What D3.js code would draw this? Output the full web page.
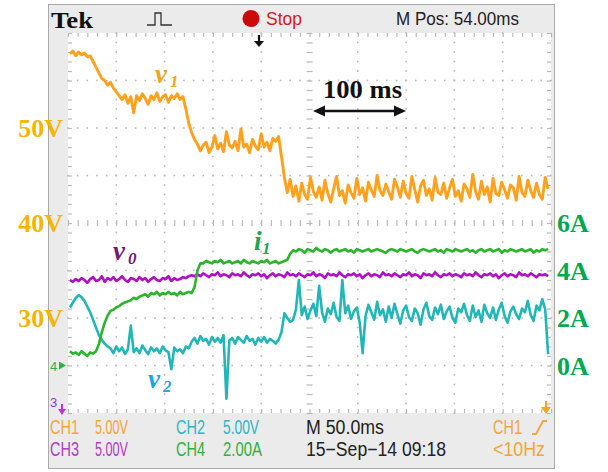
<!DOCTYPE html>
<html><head><meta charset="utf-8">
<script src="https://cdn.jsdelivr.net/npm/d3@7"></script>
<style>
html,body{margin:0;padding:0;background:#fff;}
svg{display:block;}
.nar{font-family:"Liberation Sans Narrow","Arial Narrow","Liberation Sans",Arial,sans-serif;}
.ser{font-family:"Liberation Serif","Times New Roman",serif;font-weight:bold;}
</style></head><body>
<svg id="c" width="608" height="472"></svg>
<script>
// ---- sampling grid (ms) ----
const sampleStartMs = 2;
const sampleStepMs = 3;

// ---- CH1: v1 (V) ----
const v1Values = [
57.8,58.1,57.6,58.0,57.7,57.9,57.5,57.6,
57.0,56.4,55.8,55.2,55.0,54.5,54.8,54.2,53.8,53.4,
53.0,53.5,52.6,53.3,51.6,53.4,52.9,53.6,53.1,52.5,53.4,53.0,53.7,52.8,53.3,53.5,52.7,53.4,53.1,53.6,53.0,53.3,
52.0,50.5,49.5,48.8,48.3,47.6,48.2,
48.5,47.4,48.0,49.2,47.8,48.4,47.5,49.6,48.2,47.9,48.6,47.6,49.9,48.0,48.3,47.4,48.8,48.1,47.7,49.4,48.0,48.5,47.6,48.9,48.6,49.1,
47.0,44.8,43.2,
44.6,42.8,43.9,42.3,44.2,43.0,42.5,44.8,43.3,42.7,
43.8,42.4,44.5,43.1,42.2,43.6,44.9,42.9,43.4,42.1,
44.0,43.2,42.6,44.7,43.0,43.7,42.3,44.3,43.5,42.8,
45.0,43.4,42.9,44.1,43.3,42.5,44.6,43.8,42.7,44.4,
43.1,42.6,44.9,43.5,42.2,43.9,44.5,42.9,43.6,42.4,
44.8,43.2,43.0,44.2,42.6,43.7,44.6,42.8,43.4,42.3,
44.1,43.6,42.7,45.1,43.3,42.5,44.4,43.0,43.8,42.2,
44.7,43.1,42.9,44.3,43.5,42.6,44.0,43.7,42.4,44.9,
43.2,42.8,44.5,43.4,42.7,44.2,43.0,42.5,44.8,43.6
];

// ---- CH3: v0 (V) ----
const v0Values = [
34.0,33.8,34.1,33.9,34.2,34.0,33.7,34.1,34.3,33.9,
34.0,34.4,33.8,34.2,34.0,34.3,33.9,34.1,34.4,34.0,
33.8,34.2,34.1,33.9,34.3,34.0,34.2,33.8,34.1,34.3,
34.0,33.9,34.2,34.1,34.4,33.9,34.2,34.0,34.1,34.3,
34.2,34.4,34.5,34.4,
34.6,34.4,34.7,34.5,34.3,34.6,34.5,34.8,34.4,34.6,
34.5,34.3,34.7,34.5,34.6,34.4,34.8,34.5,34.3,34.6,
34.5,34.7,34.4,34.6,34.2,34.5,34.7,34.4,34.6,34.5,
34.3,34.8,34.5,34.6,34.4,34.7,34.5,34.3,34.6,34.5,
34.8,34.4,34.6,34.5,34.2,34.7,34.5,34.6,34.4,34.8,
34.5,34.3,34.6,34.5,34.7,34.4,34.6,34.2,34.5,34.7,
34.4,34.6,34.5,34.3,34.8,34.5,34.6,34.4,34.7,34.5,
34.3,34.6,34.5,34.8,34.4,34.6,34.5,34.2,34.7,34.5,
34.6,34.4,34.8,34.5,34.3,34.6,34.5,34.7,34.4,34.6,
34.5,34.3,34.7,34.5,34.6,34.4,34.8,34.5,34.3,34.6,
34.5,34.7,34.4,34.6,34.2,34.5,34.7,34.4,34.6,34.5,
34.3,34.8,34.5,34.6,34.4,34.7,34.5,34.3,34.6,34.5,
34.6,34.4
];

// ---- CH4: i1 (A) ----
const i1Values = [
0.6,0.5,0.55,0.45,0.6,0.5,0.4,0.55,0.5,0.6,
0.9,1.4,1.8,2.1,2.3,2.35,
2.45,2.5,2.6,2.65,2.7,2.75,2.85,2.8,2.9,
2.95,3.0,2.9,3.05,3.0,3.1,2.95,3.05,3.0,3.1,3.0,3.05,2.95,3.1,3.0,3.05,3.1,3.05,
3.3,4.0,4.3,
4.3,4.4,4.35,4.3,4.4,4.35,4.45,4.3,4.35,4.4,
4.3,4.35,4.4,4.3,4.45,4.35,4.3,4.4,4.35,4.3,
4.4,4.35,4.45,4.3,4.35,4.4,4.3,4.35,4.4,4.45,
4.7,4.85,4.8,4.9,4.85,4.75,4.9,4.85,4.8,4.95,
4.85,4.8,4.9,4.85,4.75,4.85,4.9,4.8,4.85,4.9,
4.8,4.85,4.75,4.9,4.85,4.8,4.85,4.9,4.8,4.85,
4.9,4.85,4.8,4.75,4.85,4.9,4.85,4.8,4.9,4.85,
4.8,4.85,4.9,4.8,4.75,4.85,4.9,4.85,4.8,4.85,
4.9,4.8,4.85,4.75,4.9,4.85,4.8,4.9,4.85,4.8,
4.85,4.9,4.8,4.85,4.75,4.85,4.9,4.8,4.85,4.9,
4.8,4.85,4.9,4.75,4.85,4.8,4.9,4.85,4.8,4.85,
4.9,4.8,4.85,4.9,4.75,4.85,4.8,4.9,4.85,4.9
];

// ---- CH2: v2 (V) ----
const v2Values = [
31.1,31.6,32.1,32.4,32.2,31.8,31.2,30.6,29.8,29.0,28.2,27.7,27.3,27.0,
26.8,26.3,27.0,26.5,26.9,26.2,26.7,29.2,26.4,26.8,26.3,27.1,26.6,26.2,26.9,26.5,26.8,26.3,27.0,26.6,26.4,24.6,26.9,26.5,26.7,26.3,27.0,26.8,
27.5,27.9,27.3,28.1,27.6,27.8,27.2,28.0,27.5,27.9,27.4,28.2,21.5,27.6,27.9,27.3,28.0,27.7,27.4,28.1,27.6,27.8,27.2,27.9,27.5,28.0,27.4,27.8,27.6,27.3,27.7,
28.5,30.5,30.0,29.6,
29.8,30.9,34.0,30.3,31.2,29.9,30.8,31.5,30.2,33.4,
30.6,29.6,31.0,30.4,31.6,30.1,29.7,34.0,30.5,31.3,
29.9,30.7,31.1,29.5,26.3,30.2,31.4,30.6,29.8,31.7,
30.3,30.9,29.6,31.2,30.0,31.5,30.4,29.4,30.8,31.3,
30.1,29.7,31.0,30.5,29.3,30.9,31.6,30.2,29.8,31.1,
30.4,31.4,29.9,30.7,31.2,30.0,29.5,31.0,30.6,31.5,
30.3,29.7,31.3,30.1,30.8,29.6,31.4,30.5,30.0,31.1,
29.8,30.9,31.6,30.2,29.5,30.7,31.2,30.4,29.9,31.0,
30.6,31.8,30.3,29.7,31.3,30.8,32.0,30.9,26.2
];

// ---- axis labels ----
const voltTickValues = [50, 40, 30];
const voltTickLabels = ["50V", "40V", "30V"];
const ampTickValues = [6, 4, 2, 0];
const ampTickLabels = ["6A", "4A", "2A", "0A"];

// ---- header / footer texts ----
const headerTexts = ["Tek", "Stop", "M Pos: 54.00ms"];
const footerRow1 = [["CH1","#f2a53a"],["5.00V","#f2a53a"],["CH2","#2cb8c4"],["5.00V","#2cb8c4"],["M 50.0ms","#222"],["CH1","#f2a53a"]];
const footerRow2 = [["CH3","#b23cc4"],["5.00V","#b23cc4"],["CH4","#2eb340"],["2.00A","#2eb340"],["15\u2212Sep\u221214 09:18","#222"],["<10Hz","#f2a53a"]];

const svg = d3.select("#c");
const G = {x0:68, x1:551, y0:33, y1:413};
const xScale = d3.scaleLinear().domain([0,500]).range([G.x0,G.x1]);
const vScale = d3.scaleLinear().domain([20,60]).range([G.y1,G.y0]);
const iScale = d3.scaleLinear().domain([-2,14]).range([G.y1,G.y0]);

// frame
svg.append("rect").attr("x",48.5).attr("y",4.5).attr("width",506).attr("height",464)
  .attr("fill","#ebebeb").attr("stroke","#a9a9a9");
svg.append("rect").attr("x",G.x0).attr("y",G.y0).attr("width",G.x1-G.x0).attr("height",G.y1-G.y0).attr("fill","#fff");

// graticule
const gridColor = "#b9b9b9";
const minorT = xScale.ticks(50);
const minorV = vScale.ticks(40);
function styleAxis(g){ g.select(".domain").remove(); g.selectAll("text").remove(); g.selectAll("line").attr("stroke",gridColor).attr("stroke-width",1.2); }
svg.append("g").attr("transform",`translate(0,${G.y0})`).call(d3.axisBottom(xScale).tickValues(minorT).tickSize(4).tickFormat("")).call(styleAxis);
svg.append("g").attr("transform",`translate(0,${G.y1})`).call(d3.axisTop(xScale).tickValues(minorT).tickSize(4).tickFormat("")).call(styleAxis);
svg.append("g").attr("transform",`translate(${G.x0},0)`).call(d3.axisRight(vScale).tickValues(minorV).tickSize(4).tickFormat("")).call(styleAxis);
svg.append("g").attr("transform",`translate(${G.x1},0)`).call(d3.axisLeft(vScale).tickValues(minorV).tickSize(4).tickFormat("")).call(styleAxis);
const cy = vScale(40), cx = xScale(250);
svg.append("g").attr("transform",`translate(0,${cy-3})`).call(d3.axisBottom(xScale).tickValues(minorT).tickSize(6).tickFormat("")).call(styleAxis);
svg.append("g").attr("transform",`translate(${cx-3},0)`).call(d3.axisRight(vScale).tickValues(minorV).tickSize(6).tickFormat("")).call(styleAxis);
const majorT = xScale.ticks(10).filter(t=>t>0&&t<500&&t!==250);
const majorV = vScale.ticks(8).filter(v=>v>20&&v<60&&v!==40);
const dots=[];
majorT.forEach(t=>minorV.forEach(v=>dots.push([xScale(t),vScale(v)])));
majorV.forEach(v=>minorT.forEach(t=>dots.push([xScale(t),vScale(v)])));
svg.append("g").selectAll("rect").data(dots).join("rect")
  .attr("x",d=>d[0]-0.8).attr("y",d=>d[1]-0.8).attr("width",1.6).attr("height",1.6).attr("fill",gridColor);

// traces
svg.append("clipPath").attr("id","clip").append("rect")
  .attr("x",G.x0).attr("y",G.y0).attr("width",G.x1-G.x0).attr("height",G.y1-G.y0);
const times = v1Values.map((_,i)=>sampleStartMs + i*sampleStepMs);
const lineV = d3.line().x((d,i)=>xScale(times[i])).y(d=>vScale(d));
const lineI = d3.line().x((d,i)=>xScale(times[i])).y(d=>iScale(d));
const tg = svg.append("g").attr("clip-path","url(#clip)");
tg.append("path").attr("d",lineV(v1Values)).attr("fill","none").attr("stroke","#ffa11c").attr("stroke-width",2.9).attr("stroke-linejoin","round");
tg.append("path").attr("d",lineV(v2Values)).attr("fill","none").attr("stroke","#22b6b8").attr("stroke-width",2.6).attr("stroke-linejoin","round");
tg.append("path").attr("d",lineV(v0Values)).attr("fill","none").attr("stroke","#b010c4").attr("stroke-width",2.6).attr("stroke-linejoin","round");
tg.append("path").attr("d",lineI(i1Values)).attr("fill","none").attr("stroke","#2cb52c").attr("stroke-width",2.6).attr("stroke-linejoin","round");

// header
svg.append("text").attr("class","ser").attr("x",51).attr("y",28).attr("font-size",24).attr("fill","#111")
  .attr("textLength",42).attr("lengthAdjust","spacingAndGlyphs").text(headerTexts[0]);
svg.append("path").attr("d","M147,25 L155,25 L155,13 L161,13 L161,25 L172,25").attr("fill","none").attr("stroke","#333").attr("stroke-width",1.3);
svg.append("circle").attr("cx",251).attr("cy",18.5).attr("r",8.5).attr("fill","#cc0a0a");
svg.append("text").attr("class","nar").attr("x",266).attr("y",25).attr("font-size",19).attr("fill","#cc2020")
  .attr("textLength",36).attr("lengthAdjust","spacingAndGlyphs").text(headerTexts[1]);
svg.append("text").attr("class","nar").attr("x",396).attr("y",25).attr("font-size",19).attr("fill","#222")
  .attr("textLength",123).attr("lengthAdjust","spacingAndGlyphs").text(headerTexts[2]);
// trigger position marker
svg.append("path").attr("d","M259,35 L259,42").attr("stroke","#111").attr("stroke-width",2.2);
svg.append("path").attr("d","M254,41 L264,41 L259,47 Z").attr("fill","#111");

// footer
const colX = [50, 95, 176, 223, 306, 493];
const colW1 = [29, 33, 29, 36, 78, 29];
const colW2 = [29, 33, 29, 39, 140, 52];
footerRow1.forEach((d,i)=>{
  svg.append("text").attr("class","nar").attr("x",colX[i]).attr("y",434).attr("font-size",19.5).attr("fill",d[1])
   .attr("textLength",colW1[i]).attr("lengthAdjust","spacingAndGlyphs").text(d[0]);
});
footerRow2.forEach((d,i)=>{
  svg.append("text").attr("class","nar").attr("x",colX[i]).attr("y",456).attr("font-size",19.5).attr("fill",d[1])
   .attr("textLength",colW2[i]).attr("lengthAdjust","spacingAndGlyphs").text(d[0]);
});
svg.append("path").attr("d","M532,434 L536,434 L543,421 L547,421").attr("fill","none").attr("stroke","#f2a53a").attr("stroke-width",1.8);

// channel markers
svg.append("text").attr("class","nar").attr("x",50).attr("y",iScale(0)+5).attr("font-size",13).attr("fill","#2eb340").text("4");
svg.append("path").attr("d",`M59,${iScale(0)-4} L66,${iScale(0)} L59,${iScale(0)+4} Z`).attr("fill","#2eb340");
svg.append("text").attr("class","nar").attr("x",50).attr("y",407).attr("font-size",13).attr("fill","#8a3cc8").text("3");
svg.append("path").attr("d","M62,404 L62,410").attr("stroke","#b23cc4").attr("stroke-width",2);
svg.append("path").attr("d","M58,409 L66,409 L62,415 Z").attr("fill","#b23cc4");
svg.append("path").attr("d","M546,401 L546,408").attr("stroke","#f5a623").attr("stroke-width",2);
svg.append("path").attr("d","M541,407 L551,407 L546,414 Z").attr("fill","#f5a623");

// side labels
svg.selectAll(".vl").data(voltTickValues).join("text").attr("class","ser")
  .attr("x",63).attr("y",d=>vScale(d)+9).attr("text-anchor","end").attr("font-size",26).attr("fill","#f7b500")
  .text((d,i)=>voltTickLabels[i]);
svg.selectAll(".al").data(ampTickValues).join("text").attr("class","ser")
  .attr("x",557).attr("y",d=>iScale(d)+9).attr("font-size",26).attr("fill","#00a84f")
  .text((d,i)=>ampTickLabels[i]);

// annotations
function ann(x,y,main,sub,color){
  svg.append("text").attr("class","ser").attr("x",x).attr("y",y).attr("font-size",27).attr("font-style","italic").attr("fill",color).text(main);
  svg.append("text").attr("class","ser").attr("x",x+(main==="i"?8:15)).attr("y",y+4).attr("font-size",17).attr("font-style","italic").attr("fill",color).text(sub);
}
ann(155,83,"v","1","#f5a41a");
ann(113,260,"v","0","#741a74");
ann(254,250,"i","1","#1ea64e");
ann(148,388,"v","2","#1ca6e0");

svg.append("text").attr("class","ser").attr("x",323).attr("y",98).attr("font-size",25).attr("fill","#111")
  .attr("textLength",79).attr("lengthAdjust","spacingAndGlyphs").text("100 ms");
svg.append("path").attr("d","M322,111 L397,111").attr("stroke","#111").attr("stroke-width",2.4);
svg.append("path").attr("d","M313,111 L325,105.5 L325,116.5 Z").attr("fill","#111");
svg.append("path").attr("d","M406,111 L394,105.5 L394,116.5 Z").attr("fill","#111");
</script>
</body></html>
